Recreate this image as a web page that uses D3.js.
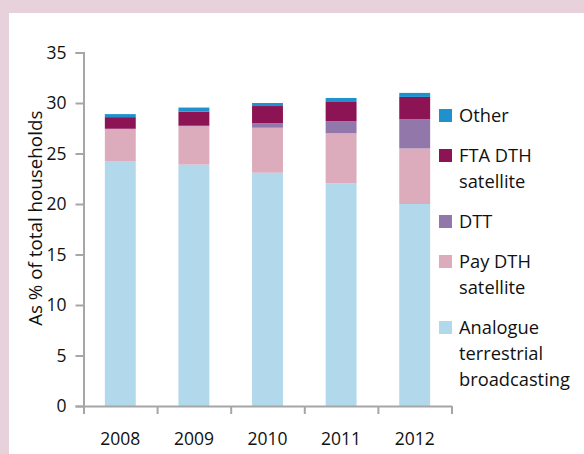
<!DOCTYPE html>
<html>
<head>
<meta charset="utf-8">
<script src="https://cdn.jsdelivr.net/npm/d3@7"></script>
<style>
  html, body { margin: 0; padding: 0; background: #e7d1db; }
  svg { display: block; }
  text { font-family: "Open Sans", sans-serif; fill: #111111; }
</style>
</head>
<body>
<svg id="chart" width="584" height="454"></svg>
<script>
// Platform share of households, 2008-2012
const years = ["2008", "2009", "2010", "2011", "2012"];
const analogue = [24.2, 23.9, 23.1, 22.05, 20.0];
const payDth = [3.2, 3.8, 4.45, 4.95, 5.5];
const dtt = [0.05, 0.05, 0.45, 1.2, 2.9];
const ftaDth = [1.15, 1.4, 1.7, 1.9, 2.2];
const other = [0.3, 0.4, 0.3, 0.4, 0.4];
const yTicks = [0, 5, 10, 15, 20, 25, 30, 35];

const seriesKeys = ["analogue", "pay", "dtt", "fta", "other"];
const seriesColors = {
  analogue: "#b1d9eb",
  pay: "#dcacbc",
  dtt: "#9277ab",
  fta: "#8d1454",
  other: "#1f92cd"
};
// Legend runs top to bottom, reverse of the stacking order
const legendItems = [
  { key: "other", lines: ["Other"] },
  { key: "fta", lines: ["FTA DTH", "satellite"] },
  { key: "dtt", lines: ["DTT"] },
  { key: "pay", lines: ["Pay DTH", "satellite"] },
  { key: "analogue", lines: ["Analogue", "terrestrial", "broadcasting"] }
];

const rows = years.map((yr, i) => ({
  year: yr,
  analogue: analogue[i],
  pay: payDth[i],
  dtt: dtt[i],
  fta: ftaDth[i],
  other: other[i]
}));

const svg = d3.select("#chart");

// white panel inside the pink frame
svg.append("rect")
  .attr("x", 9).attr("y", 13)
  .attr("width", 584 - 9).attr("height", 454 - 13)
  .attr("fill", "#ffffff");

const x0 = 83.5, x1 = 451.5;
const yBottom = 406, yTop = 52.5;

const x = d3.scaleBand().domain(years).range([x0, x1])
  .paddingInner(0.58).paddingOuter(0.29);
const xEdges = d3.scaleLinear().domain([0, years.length]).range([x0, x1]);
const y = d3.scaleLinear().domain([0, 35]).range([yBottom, yTop]);

const stack = d3.stack().keys(seriesKeys);
const stacked = stack(rows);

svg.append("g")
  .selectAll("g")
  .data(stacked)
  .join("g")
  .attr("fill", d => seriesColors[d.key])
  .selectAll("rect")
  .data(d => d)
  .join("rect")
  .attr("x", d => x(d.data.year))
  .attr("width", x.bandwidth())
  .attr("y", d => y(d[1]))
  .attr("height", d => Math.max(0, y(d[0]) - y(d[1])));

// y axis
const yAxis = svg.append("g")
  .attr("transform", `translate(${x0},0)`)
  .call(d3.axisLeft(y).tickValues(yTicks).tickSize(8).tickPadding(9));
yAxis.select(".domain").attr("stroke", "#a6a6a6").attr("stroke-width", 2);
yAxis.selectAll(".tick line").attr("stroke", "#a6a6a6").attr("stroke-width", 2);
yAxis.selectAll(".tick text")
  .style("font-family", "Open Sans, sans-serif")
  .style("font-size", "17.5px")
  .attr("fill", "#111111");

// x axis: tick marks sit between categories
const xAxis = svg.append("g")
  .attr("transform", `translate(0,${yBottom})`)
  .call(d3.axisBottom(xEdges).tickValues(d3.range(years.length + 1))
    .tickSize(8).tickSizeOuter(0).tickFormat(""));
xAxis.select(".domain").attr("stroke", "#a6a6a6").attr("stroke-width", 2);
xAxis.selectAll(".tick line").attr("stroke", "#a6a6a6").attr("stroke-width", 2);

svg.append("g")
  .selectAll("text")
  .data(years)
  .join("text")
  .attr("x", d => x(d) + x.bandwidth() / 2)
  .attr("y", 445)
  .attr("text-anchor", "middle")
  .style("font-size", "17.5px")
  .text(d => d);

// y axis title
svg.append("text")
  .attr("transform", `translate(42,${(yTop + yBottom) / 2 - 11}) rotate(-90)`)
  .attr("text-anchor", "middle")
  .style("font-size", "18.8px")
  .text("As % of total households");

// legend
const lineH = 26;
let cy = 115;
const legend = svg.append("g");
legendItems.forEach(item => {
  const g = legend.append("g");
  g.append("rect")
    .attr("x", 439).attr("y", cy - 6)
    .attr("width", 13).attr("height", 13)
    .attr("fill", seriesColors[item.key]);
  item.lines.forEach((ln, j) => {
    g.append("text")
      .attr("x", 459)
      .attr("y", cy + j * lineH + 6.5)
      .style("font-size", "18.3px")
      .text(ln);
  });
  cy += item.lines.length * lineH + 14;
});
</script>
</body>
</html>
